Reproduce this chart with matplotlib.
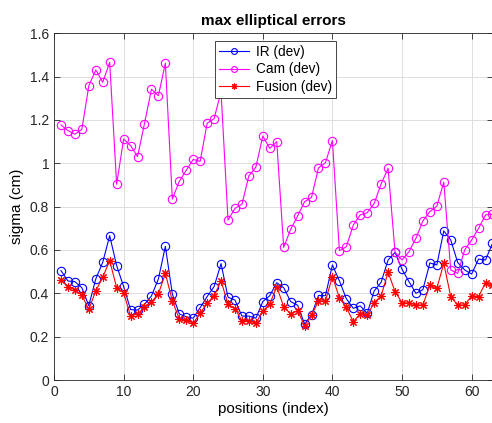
import matplotlib.pyplot as plt
import numpy as np

plt.rcParams['font.family'] = ['Liberation Sans', 'DejaVu Sans']

positions = np.arange(1, 64)
ir_dev = [0.505, 0.457, 0.454, 0.426, 0.343, 0.466, 0.543, 0.666, 0.528, 0.432,
          0.325, 0.323, 0.349, 0.388, 0.466, 0.617, 0.397, 0.305, 0.292, 0.285,
          0.334, 0.385, 0.431, 0.537, 0.382, 0.369, 0.295, 0.295, 0.285, 0.362,
          0.389, 0.449, 0.426, 0.362, 0.345, 0.259, 0.300, 0.390, 0.389, 0.531,
          0.458, 0.375, 0.331, 0.342, 0.308, 0.411, 0.451, 0.554, 0.589, 0.511,
          0.454, 0.400, 0.417, 0.540, 0.531, 0.688, 0.646, 0.542, 0.508, 0.489,
          0.558, 0.554, 0.631]
cam_dev = [1.177, 1.151, 1.134, 1.157, 1.357, 1.431, 1.374, 1.466, 0.903, 1.112,
           1.082, 1.031, 1.183, 1.342, 1.312, 1.462, 0.835, 0.917, 0.968, 1.018,
           1.009, 1.185, 1.206, 1.330, 0.738, 0.792, 0.811, 0.943, 0.982, 1.126,
           1.069, 1.100, 0.612, 0.695, 0.757, 0.823, 0.843, 0.979, 1.003, 1.105,
           0.597, 0.615, 0.715, 0.762, 0.772, 0.815, 0.905, 0.977, 0.589, 0.554,
           0.592, 0.654, 0.734, 0.777, 0.802, 0.913, 0.508, 0.492, 0.600, 0.646,
           0.700, 0.762, 0.765]
fusion_dev = [0.462, 0.431, 0.415, 0.391, 0.326, 0.411, 0.474, 0.551, 0.426, 0.403,
              0.295, 0.305, 0.335, 0.360, 0.397, 0.492, 0.365, 0.282, 0.277, 0.262,
              0.308, 0.354, 0.388, 0.458, 0.349, 0.329, 0.274, 0.274, 0.262, 0.318,
              0.351, 0.431, 0.338, 0.305, 0.320, 0.250, 0.298, 0.365, 0.365, 0.477,
              0.380, 0.335, 0.269, 0.305, 0.300, 0.357, 0.388, 0.497, 0.408, 0.357,
              0.355, 0.346, 0.346, 0.438, 0.423, 0.538, 0.385, 0.346, 0.346, 0.388,
              0.385, 0.449, 0.438]

W, H = 492, 423
fig = plt.figure(figsize=(W / 100, H / 100), dpi=100)
ax = fig.add_axes([54 / W, (H - 380) / H, 438.5 / W, 346.7 / H])

ax.plot(positions, ir_dev, '-o', color='blue', lw=0.8, ms=6,
        mfc='none', mew=0.8, label='IR (dev)')
ax.plot(positions, cam_dev, '-o', color='magenta', lw=0.8, ms=6,
        mfc='none', mew=0.8, label='Cam (dev)')
# matlab style asterisk
ax.plot(positions, fusion_dev, '-', marker=(8, 2, 0), color='red', lw=0.8,
        ms=6, mew=0.8, label='Fusion (dev)')

ax.set_xlim(0, 63)
ax.set_ylim(0, 1.6)
ax.set_xticks(np.arange(0, 61, 10))
yt = np.arange(0, 1.61, 0.2)
ax.set_yticks(yt)
ax.set_yticklabels(['0', '0.2', '0.4', '0.6', '0.8', '1', '1.2', '1.4', '1.6'])
ax.tick_params(direction='in', top=True, right=True, labelsize=10,
               length=4, width=0.6, color='#262626', labelcolor='#262626')
for s in ax.spines.values():
    s.set_linewidth(0.6)
    s.set_color('#262626')
ax.grid(True, color='#dedede', lw=0.7)
ax.set_axisbelow(True)

ax.set_title('max elliptical errors', fontsize=11, fontweight='bold', pad=6)
ax.set_xlabel('positions (index)', fontsize=11, labelpad=2)
ax.set_ylabel('sigma (cm)', fontsize=11, labelpad=4)

leg = ax.legend(loc='upper left', bbox_to_anchor=(0.367, 0.978), fontsize=9.8,
                fancybox=False, framealpha=1, edgecolor='#262626',
                handlelength=2.2, markerscale=0.7, borderpad=0.3,
                labelspacing=0.25, handletextpad=0.5, borderaxespad=0)
leg.get_frame().set_linewidth(0.6)
leg.set_zorder(5)

fig.savefig('out.png', dpi=100)
